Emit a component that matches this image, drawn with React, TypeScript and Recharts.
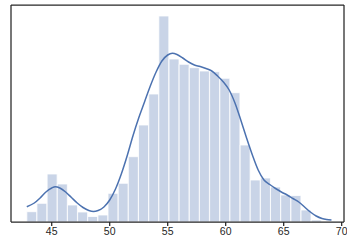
import { ComposedChart, Bar, Line, XAxis, YAxis, ReferenceLine } from 'recharts';

// histogram bins: centre of each bin and its bar height (density, arbitrary units)
const binCenters = [
  43.29, 44.16, 45.04, 45.92, 46.79, 47.67, 48.54, 49.42, 50.29, 51.17,
  52.04, 52.92, 53.8, 54.67, 55.55, 56.42, 57.3, 58.17, 59.05, 59.93,
  60.8, 61.68, 62.55, 63.43, 64.3, 65.18, 66.06, 66.93, 67.81, 68.68,
];
const binHeights = [
  10.3, 18.7, 48, 38, 17, 10, 5.5, 7, 28.7, 38.7,
  65.3, 97, 128, 206, 163, 157.7, 154.3, 151, 150.3, 143.7,
  129.3, 77, 42, 44, 35, 27, 26.5, 12, 2, 0,
];

// kde curve
const kdeX = [
  42.85, 43.5, 44.0, 44.5, 45.0, 45.3, 45.7, 46.2, 46.7, 47.2,
  47.7, 48.2, 48.6, 49.0, 49.5, 50.0, 50.5, 51.0, 51.5, 52.0,
  52.5, 53.0, 53.5, 54.0, 54.5, 55.0, 55.4, 55.8, 56.3, 56.8,
  57.3, 57.8, 58.3, 58.8, 59.3, 59.8, 60.3, 60.8, 61.3, 61.8,
  62.3, 62.8, 63.3, 63.8, 64.3, 64.8, 65.3, 65.8, 66.3, 66.8,
  67.3, 67.8, 68.3, 68.7, 69.12,
];
const kdeY = [
  15.3, 19, 24, 30, 34, 35.3, 34, 30, 24.5, 19,
  14.5, 11.5, 10.5, 11.5, 15, 22, 33, 48, 66, 86,
  104, 120, 136, 150, 161, 167, 168.7, 167.5, 164, 160,
  157, 155.5, 153.5, 151, 146, 140, 132, 119, 102, 84,
  67, 52, 42, 37.5, 33.5, 30, 27, 23.5, 20, 15,
  10, 6, 3.5, 2.5, 2,
];

const xTicks = [45, 50, 55, 60, 65, 70];
const xDomain = [41.49, 70.2];
const yDomain = [0, 217];

const bins = binCenters.map((x, i) => ({ x, h: binHeights[i] }));
const kde = kdeX.map((x, i) => ({ x, k: kdeY[i] }));

const spine = '#262626';
const blue = '#4c72b0';

export default function App() {
  return (
    <div style={{ position: 'absolute', left: 0, top: 0, width: 347, height: 246 }}>
      <ComposedChart
        width={347}
        height={246}
        data={bins}
        margin={{ top: 5, right: 3, left: 0, bottom: 0 }}
      >
        <XAxis
          dataKey="x"
          type="number"
          domain={xDomain}
          allowDataOverflow
          ticks={xTicks}
          height={24}
          tickSize={4}
          stroke={spine}
          strokeWidth={1.25}
          tick={{ fill: '#262626', fontSize: 10.5, fontFamily: 'Liberation Sans, Arial, sans-serif' }}
          tickLine={{ stroke: spine }}
        />
        <YAxis
          domain={yDomain}
          allowDataOverflow
          width={11}
          tick={false}
          tickLine={false}
          stroke={spine}
          strokeWidth={1.25}
        />
        <Bar
          dataKey="h"
          barSize={10}
          fill={blue}
          fillOpacity={0.3}
          stroke="#ffffff"
          strokeWidth={0.8}
          isAnimationActive={false}
        />
        <ReferenceLine y={yDomain[1]} stroke={spine} strokeWidth={1.25} />
        <ReferenceLine x={xDomain[1]} stroke={spine} strokeWidth={1.25} />
      </ComposedChart>
      <div style={{ position: 'absolute', left: 0, top: 0 }}>
        <ComposedChart
          width={347}
          height={246}
          data={kde}
          margin={{ top: 5, right: 3, left: 11, bottom: 24 }}
        >
          <XAxis dataKey="x" type="number" domain={xDomain} allowDataOverflow hide />
          <YAxis domain={yDomain} allowDataOverflow hide />
          <Line
            dataKey="k"
            type="monotone"
            stroke={blue}
            strokeWidth={1.5}
            dot={false}
            activeDot={false}
            isAnimationActive={false}
          />
        </ComposedChart>
      </div>
    </div>
  );
}
